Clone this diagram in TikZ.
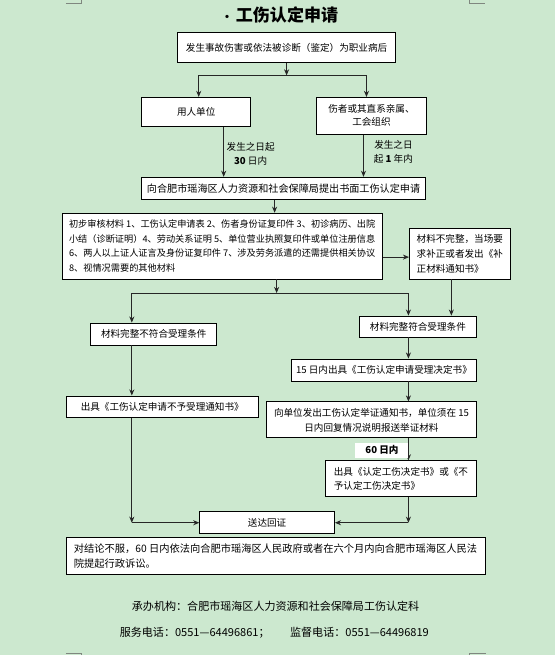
\documentclass[tikz,border=0pt]{standalone}
\usepackage{fontspec}
\setmainfont{Noto Sans CJK SC}
\usepackage{xcolor}
\definecolor{pagebg}{HTML}{CCE8CF}
\definecolor{markgray}{HTML}{7F877F}
\definecolor{wire}{HTML}{262626}
\usetikzlibrary{arrows.meta}

\begin{document}
\begin{tikzpicture}[
  x=0.75pt,y=-0.75pt,
  wh/.style 2 args={minimum width=#1*0.75pt,minimum height=#2*0.75pt},
  box/.style={draw=black,fill=white,line width=0.6pt,inner sep=0pt,align=center,
              font=\fontsize{7.2}{10.5}\selectfont},
  note/.style={inner sep=0pt,align=center,font=\fontsize{7.2}{10.5}\selectfont},
  arr/.style={-{Stealth[length=4.6pt,width=3.8pt]},line width=0.6pt,wire},
  ln/.style={line width=0.6pt,wire}
]
  \fill[pagebg] (0,0) rectangle (556,655);
  % page corner marks
  \draw[markgray,line width=0.7pt] (66,3.5) -- (82,3.5) -- (82,0);
  \draw[markgray,line width=0.7pt] (470,0) -- (470,3.5) -- (486,3.5);
  \draw[markgray,line width=0.7pt] (66,654) -- (82,654) -- (82,655);
  \draw[markgray,line width=0.7pt] (470,655) -- (470,654) -- (487,654);

  \node[font=\fontsize{12.8}{14}\selectfont\bfseries] (title) at (280,15) {{\fontsize{9}{10}\selectfont·}\,工伤认定申请};

  \node[box,wh={218}{30}] (start) at (287,47) {发生事故伤害或依法被诊断（鉴定）为职业病后};
  \node[box,wh={109}{29}] (unit) at (196.5,111.5) {用人单位};
  \node[box,wh={110}{37},font=\fontsize{7.2}{9.75}\selectfont] (kin) at (372,115.5) {伤者或其直系亲属、\\工会组织};
  \node[note] (t30) at (251,154) {发生之日起\\\textbf{30} 日内};
  \node[note] (t1y) at (394,151.5) {发生之日\\起 \textbf{1} 年内};
  \node[box,wh={284}{22},font=\fontsize{7.6}{10}\selectfont] (apply) at (284,188) {向合肥市瑶海区人力资源和社会保障局提出书面工伤认定申请};

  \node[box,wh={321}{66},align=left,font=\fontsize{6.9}{10.9}\selectfont] (mat) at (222.5,246) {初步审核材料 1、工伤认定申请表 2、伤者身份证复印件 3、初诊病历、出院\\小结（诊断证明）4、劳动关系证明 5、单位营业执照复印件或单位注册信息\\6、两人以上证人证言及身份证复印件 7、涉及劳务派遣的还需提供相关协议\\8、视情况需要的其他材料};
  \node[box,wh={101}{51},align=left,font=\fontsize{7.2}{11.25}\selectfont] (inc) at (460.5,253.5) {材料不完整，当场要\\求补正或者发出《补\\正材料通知书》};

  \node[box,wh={126}{22}] (reject) at (154,334) {材料完整不符合受理条件};
  \node[box,wh={117}{21}] (accept) at (418.5,326.5) {材料完整符合受理条件};
  \node[box,wh={193}{22}] (notice) at (162.5,407) {出具《工伤认定申请不予受理通知书》};
  \node[box,wh={185}{22}] (accd) at (384.5,370) {15 日内出具《工伤认定申请受理决定书》};
  \node[box,wh={210}{36},font=\fontsize{7.2}{11.25}\selectfont] (proof) at (372,420) {向单位发出工伤认定举证通知书，单位须在 15\\日内回复情况说明报送举证材料};
  \node[box,wh={151}{36},align=left] (judge) at (401.5,479) {出具《认定工伤决定书》或《不\\予认定工伤决定书》};
  \node[box,wh={135}{22}] (serve) at (267.5,523) {送达回证};
  \node[box,wh={420}{37},align=left,font=\fontsize{7.7}{11.25}\selectfont] (final) at (276,556.5) {对结论不服，60 日内依法向合肥市瑶海区人民政府或者在六个月内向合肥市瑶海区人民法\\院提起行政诉讼。};

  \node[note,font=\fontsize{8.3}{10}\selectfont] (org) at (276,607) {承办机构：合肥市瑶海区人力资源和社会保障局工伤认定科};
  \node[note,font=\fontsize{8.3}{10}\selectfont] (tel1) at (195,633) {服务电话：0551—64496861；};
  \node[note,font=\fontsize{8.3}{10}\selectfont] (tel2) at (360,633) {监督电话：0551—64496819};

  % connectors
  \coordinate (fork1) at (287,75);
  \coordinate (fork1l) at (199,75);
  \coordinate (fork1r) at (367,75);
  \draw[arr] (start) -- (fork1);
  \draw[ln] (fork1l) -- (fork1r);
  \draw[arr] (fork1l) -- (fork1l |- unit.north);
  \draw[arr] (fork1r) -- (fork1r |- kin.north);

  \coordinate (ua) at (224,0);
  \coordinate (ka) at (364,0);
  \coordinate (am) at (275,0);
  \draw[arr] (ua |- unit.south) -- (ua |- apply.north);
  \draw[arr] (ka |- kin.south) -- (ka |- apply.north);
  \draw[arr] (am |- apply.south) -- (am |- mat.north);

  \coordinate (mi) at (0,257);
  \draw[arr] (mat.east |- mi) -- (inc.west |- mi);

  \coordinate (fork2) at (277,293);
  \coordinate (fork2l) at (132,293);
  \coordinate (fork2r) at (409,293);
  \coordinate (ia) at (452,0);
  \draw[arr] (fork2 |- mat.south) -- (fork2);
  \draw[ln] (fork2l) -- (fork2r);
  \draw[arr] (fork2l) -- (fork2l |- reject.north);
  \draw[arr] (fork2r) -- (fork2r |- accept.north);
  \draw[arr] (ia |- inc.south) -- (ia |- accept.north);

  \draw[arr] (fork2l |- reject.south) -- (fork2l |- notice.north);
  \draw[arr] (fork2r |- accept.south) -- (fork2r |- accd.north);
  \draw[arr] (fork2r |- accd.south) -- (fork2r |- proof.north);
  \draw[arr] (fork2r |- proof.south) -- (fork2r |- judge.north);
  \node[note,fill=white,wh={53}{15},font=\fontsize{7.2}{9}\selectfont\bfseries] (days) at (382.5,450.5) {60 日内};

  \coordinate (cl) at (132,523);
  \coordinate (cr) at (409,523);
  \draw[arr] (fork2l |- notice.south) -- (cl);
  \draw[arr] (cl) -- (serve.west);
  \draw[arr] (fork2r |- judge.south) -- (cr);
  \draw[arr] (cr) -- (serve.east);
\end{tikzpicture}
\end{document}
